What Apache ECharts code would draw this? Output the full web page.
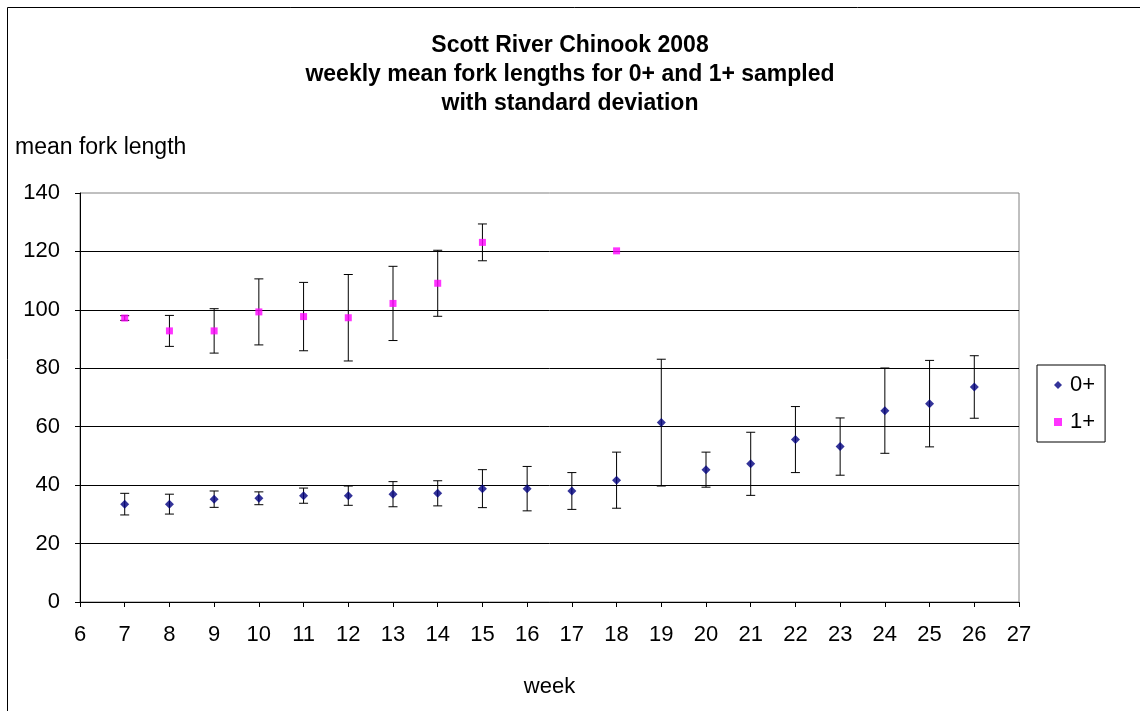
<!DOCTYPE html>
<html>
<head>
<meta charset="utf-8">
<script src="https://cdn.jsdelivr.net/npm/echarts@6/dist/echarts.min.js"></script>
<style>
  html, body { margin: 0; padding: 0; background: #fff; }
  #chart { width: 1140px; height: 711px; }
</style>
</head>
<body>
<div id="chart"></div>
<script>
// Weekly mean fork length (mm) and standard deviation, Scott River Chinook 2008
const weeks0 = [7, 8, 9, 10, 11, 12, 13, 14, 15, 16, 17, 18, 19, 20, 21, 22, 23, 24, 25, 26];
const mean0  = [33.5, 33.5, 35.2, 35.5, 36.4, 36.4, 36.9, 37.2, 38.8, 38.8, 38.0, 41.7, 61.4, 45.3, 47.3, 55.6, 53.2, 65.5, 67.9, 73.6];
const sd0    = [3.7, 3.4, 2.8, 2.2, 2.6, 3.3, 4.3, 4.3, 6.5, 7.6, 6.3, 9.6, 21.7, 6.0, 10.8, 11.3, 9.8, 14.6, 14.8, 10.7];

const weeks1 = [7, 8, 9, 10, 11, 12, 13, 14, 15, 18];
const mean1  = [97.2, 92.8, 92.8, 99.3, 97.7, 97.3, 102.2, 109.1, 123.1, 120.2];
const sd1    = [0.8, 5.3, 7.6, 11.3, 11.7, 14.8, 12.7, 11.3, 6.3, 0];

const xTicks = { min: 6, max: 27, interval: 1 };
const yTicks = { min: 0, max: 140, interval: 20 };

const FONT = '"Liberation Sans", Arial, sans-serif';

function points(weeks, means) {
  return weeks.map((w, i) => [w, means[i]]);
}
function errorRanges(weeks, means, sds) {
  return weeks
    .map((w, i) => [w, means[i] - sds[i], means[i] + sds[i], sds[i]])
    .filter(d => d[3] > 0);
}

// Vertical whisker with caps at mean ± sd
function renderErrorBar(params, api) {
  const x = api.value(0);
  const lo = api.coord([x, api.value(1)]);
  const hi = api.coord([x, api.value(2)]);
  const cap = 4.5;
  const style = { stroke: '#000', lineWidth: 1 };
  return {
    type: 'group',
    children: [
      { type: 'line', shape: { x1: lo[0], y1: lo[1], x2: hi[0], y2: hi[1] }, style },
      { type: 'line', shape: { x1: lo[0] - cap, y1: lo[1], x2: lo[0] + cap, y2: lo[1] }, style },
      { type: 'line', shape: { x1: hi[0] - cap, y1: hi[1], x2: hi[0] + cap, y2: hi[1] }, style }
    ]
  };
}

const chart = echarts.init(document.getElementById('chart'), null, { renderer: 'canvas' });

chart.setOption({
  animation: false,
  backgroundColor: '#fff',
  textStyle: { fontFamily: FONT },
  graphic: [
    {
      type: 'rect',
      shape: { x: 7.5, y: 7.5, width: 1200, height: 800 },
      style: { fill: 'none', stroke: '#000', lineWidth: 1 },
      silent: true, z: -10
    }
  ],
  title: [
    {
      text: 'Scott River Chinook 2008\nweekly mean fork lengths for 0+ and 1+ sampled\nwith standard deviation',
      left: 'center',
      top: 26,
      textStyle: { fontFamily: FONT, fontSize: 23, fontWeight: 'bold', color: '#000', lineHeight: 29 }
    },
    {
      text: 'mean fork length',
      left: 10,
      top: 131,
      textStyle: { fontFamily: FONT, fontSize: 23, fontWeight: 'normal', color: '#000' }
    }
  ],
  legend: {
    data: ['0+', '1+'],
    orient: 'vertical',
    left: 1037,
    top: 365,
    padding: [9, 10, 9, 17],
    itemGap: 15,
    itemWidth: 8,
    itemHeight: 8,
    borderColor: '#000',
    borderWidth: 1,
    textStyle: { fontFamily: FONT, fontSize: 22, color: '#000', padding: [0, 0, 0, 3] }
  },
  grid: {
    left: 80, right: 121, top: 193, bottom: 109,
    show: true, borderColor: '#808080', borderWidth: 1, backgroundColor: '#fff'
  },
  xAxis: {
    type: 'value',
    min: xTicks.min, max: xTicks.max, interval: xTicks.interval,
    name: 'week',
    nameLocation: 'middle',
    nameGap: 74,
    nameTextStyle: { fontFamily: FONT, fontSize: 22, color: '#000' },
    axisLine: { show: true, onZero: false, lineStyle: { color: '#000', width: 1 } },
    axisTick: { show: true, inside: false, length: 5, lineStyle: { color: '#000' } },
    axisLabel: { fontFamily: FONT, fontSize: 22, color: '#000', margin: 22 },
    splitLine: { show: false }
  },
  yAxis: {
    type: 'value',
    min: yTicks.min, max: yTicks.max, interval: yTicks.interval,
    axisLine: { show: true, lineStyle: { color: '#000', width: 1 } },
    axisTick: { show: true, inside: false, length: 5, lineStyle: { color: '#000' } },
    axisLabel: { fontFamily: FONT, fontSize: 22, color: '#000', margin: 20 },
    splitLine: { show: true, showMaxLine: false, lineStyle: { color: '#000', width: 1 } }
  },
  series: [
    {
      name: 'sd 0+',
      type: 'custom',
      renderItem: renderErrorBar,
      data: errorRanges(weeks0, mean0, sd0),
      encode: { x: 0, y: [1, 2] },
      z: 3, silent: true
    },
    {
      name: 'sd 1+',
      type: 'custom',
      renderItem: renderErrorBar,
      data: errorRanges(weeks1, mean1, sd1),
      encode: { x: 0, y: [1, 2] },
      z: 3, silent: true
    },
    {
      name: '0+',
      type: 'scatter',
      symbol: 'diamond',
      symbolSize: 9,
      itemStyle: { color: '#000080' },
      data: points(weeks0, mean0),
      z: 4
    },
    {
      name: '1+',
      type: 'scatter',
      symbol: 'rect',
      symbolSize: 7,
      itemStyle: { color: '#FF00FF' },
      data: points(weeks1, mean1),
      z: 4
    }
  ]
});
</script>
</body>
</html>
